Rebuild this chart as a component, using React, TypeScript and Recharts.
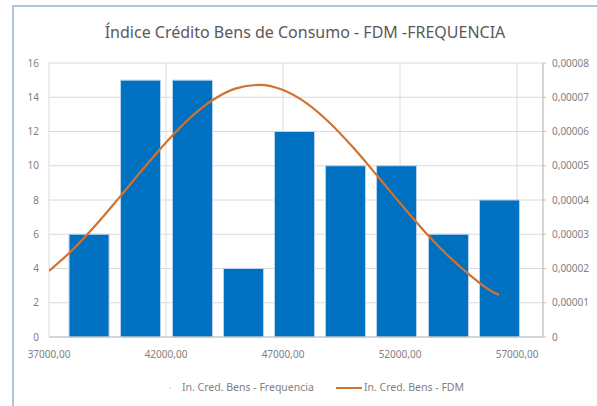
import { ComposedChart, Bar, Line, XAxis, YAxis, CartesianGrid, Legend } from 'recharts';

// histogram bins (bin centre) and counts
const binCentres = [38690, 40890, 43110, 45290, 47470, 49650, 51830, 54050, 56230];
const frequencies = [6, 15, 15, 4, 12, 10, 10, 6, 8];

// density curve
const fdmX = [37000, 38000, 39000, 40000, 41000, 42000, 43000, 44000, 45000, 46000, 47000, 48000, 49000, 50000, 51000, 52000, 53000, 54000, 55000, 56000, 56230];
const fdmY = [
  0.0000193, 0.0000254, 0.0000327, 0.0000407, 0.0000489, 0.0000568, 0.0000638, 0.0000692, 0.0000726, 0.0000736,
  0.0000721, 0.0000683, 0.0000625, 0.0000553, 0.0000473, 0.0000391, 0.0000312, 0.0000241, 0.000018, 0.000013, 0.0000123,
];

const xTicks = [37000, 42000, 47000, 52000, 57000];
const leftTicks = [0, 2, 4, 6, 8, 10, 12, 14, 16];
const rightTicks = [0, 0.00001, 0.00002, 0.00003, 0.00004, 0.00005, 0.00006, 0.00007, 0.00008];

const title = 'Índice Crédito Bens de Consumo - FDM -FREQUENCIA';
const barName = 'In. Cred. Bens - Frequencia';
const lineName = 'In. Cred. Bens - FDM';

const barData = binCentres.map((x, i) => ({ x, freq: frequencies[i] }));
const lineData = fdmX.map((x, i) => ({ x, fdm: fdmY[i] }));

const X_DOMAIN: [number, number] = [37000, 58110];
const FONT = '"Noto Sans", sans-serif';
const TEXT = '#7f7f7f';
const BLUE = '#0070C0';
const ORANGE = '#D2722F';

const fmtX = (v: number) => v.toFixed(2).replace('.', ',');
const fmtRight = (v: number) => (v === 0 ? '0' : v.toFixed(5).replace('.', ','));

const LegendContent = () => (
  <div style={{ position: 'relative', height: 20, fontFamily: FONT, fontSize: 10.5, color: TEXT }}>
    <span style={{ position: 'absolute', left: 169, top: 9, width: 2, height: 2, background: '#dbe9f6' }} />
    <span style={{ position: 'absolute', left: 182, top: 2, whiteSpace: 'nowrap' }}>{barName}</span>
    <span style={{ position: 'absolute', left: 336, top: 9, width: 26, height: 2, background: ORANGE }} />
    <span style={{ position: 'absolute', left: 364, top: 2, whiteSpace: 'nowrap' }}>{lineName}</span>
  </div>
);

export default function App() {
  return (
    <div style={{ position: 'absolute', left: 0, top: 0, width: 597, height: 406, background: '#fff', overflow: 'hidden' }}>
      <div
        style={{
          position: 'absolute',
          left: 12,
          top: 5,
          width: 700,
          height: 500,
          borderLeft: '2px solid #b4c2e2',
          borderTop: '2px solid #b4c2e2',
        }}
      />
      <div
        style={{
          position: 'absolute',
          left: 0,
          top: 21,
          width: 610,
          textAlign: 'center',
          fontFamily: FONT,
          fontSize: 16,
          color: '#595959',
          whiteSpace: 'nowrap',
        }}
      >
        {title}
      </div>
      <ComposedChart
        width={597}
        height={406}
        data={barData}
        margin={{ top: 63, right: 4, bottom: 19, left: 13 }}
        style={{ position: 'absolute', left: 0, top: 0 }}
      >
        <CartesianGrid stroke="#dadada" yAxisId="left" />
        <XAxis
          dataKey="x"
          type="number"
          domain={X_DOMAIN}
          ticks={xTicks}
          allowDataOverflow
          tickFormatter={fmtX}
          tickLine={false}
          tickSize={0}
          tickMargin={14}
          height={30}
          stroke="#bfbfbf"
          tick={{ fill: TEXT, fontSize: 10, fontFamily: FONT }}
        />
        <XAxis xAxisId="lx" dataKey="x" type="number" domain={X_DOMAIN} allowDataOverflow hide />
        <YAxis
          yAxisId="left"
          domain={[0, 16]}
          ticks={leftTicks}
          axisLine={false}
          tickLine={false}
          tickSize={0}
          tickMargin={10}
          width={36}
          tick={{ fill: TEXT, fontSize: 10, fontFamily: FONT }}
        />
        <YAxis
          yAxisId="right"
          orientation="right"
          domain={[0, 0.00008]}
          ticks={rightTicks}
          tickFormatter={fmtRight}
          stroke="#bfbfbf"
          tickSize={3}
          tickMargin={6}
          width={50}
          tick={{ fill: TEXT, fontSize: 10, fontFamily: FONT }}
        />
        <Bar
          yAxisId="left"
          dataKey="freq"
          name={barName}
          fill={BLUE}
          stroke="#b9d3ee"
          strokeWidth={1}
          barSize={40}
          isAnimationActive={false}
        />
        <Line
          xAxisId="lx"
          yAxisId="right"
          data={lineData}
          dataKey="fdm"
          name={lineName}
          type="monotone"
          stroke={ORANGE}
          strokeWidth={2.2}
          dot={false}
          isAnimationActive={false}
        />
        <Legend
          content={<LegendContent />}
          wrapperStyle={{ left: 0, top: 378, bottom: 'auto', width: 597, height: 20 }}
        />
      </ComposedChart>
    </div>
  );
}
